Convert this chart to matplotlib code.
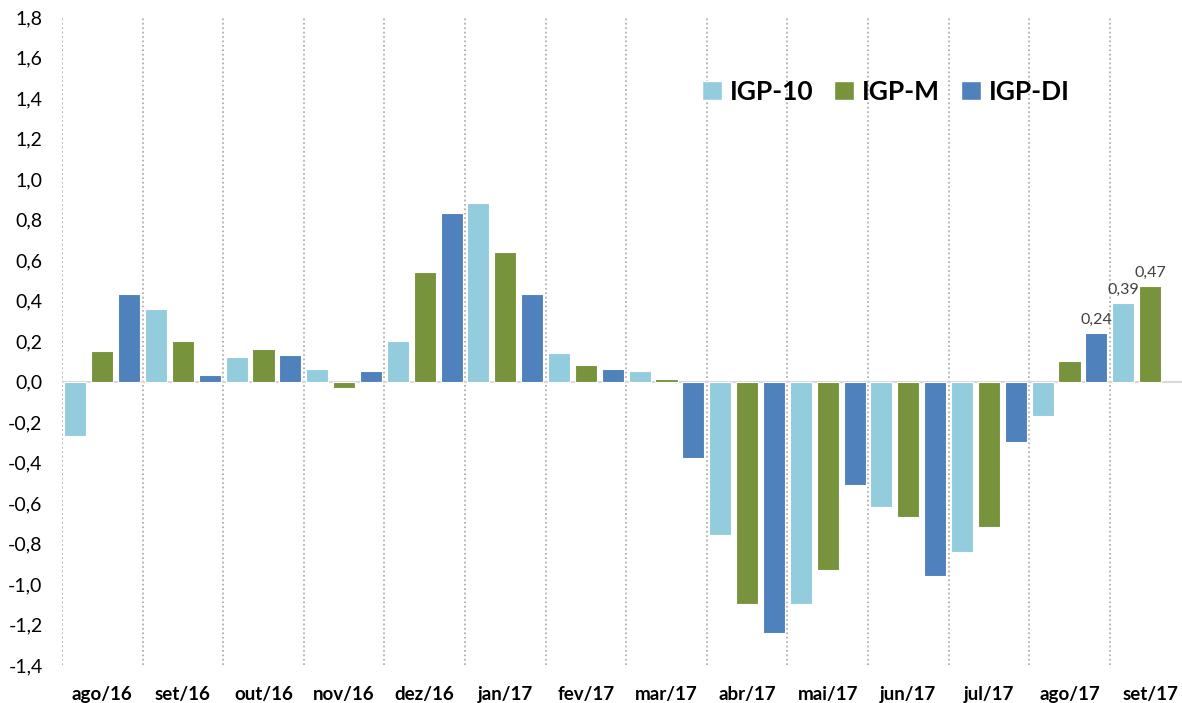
import numpy as np
import matplotlib
matplotlib.use("Agg")
import matplotlib.pyplot as plt
from matplotlib.patches import Patch

plt.rcParams['font.family'] = ['Lato', 'DejaVu Sans']

# monthly change (%)
meses = ['ago/16', 'set/16', 'out/16', 'nov/16', 'dez/16', 'jan/17', 'fev/17',
         'mar/17', 'abr/17', 'mai/17', 'jun/17', 'jul/17', 'ago/17', 'set/17']
igp10 = [-0.27, 0.36, 0.12, 0.06, 0.20, 0.88, 0.14, 0.05, -0.76, -1.10, -0.62, -0.84, -0.17, 0.39]
igpm = [0.15, 0.20, 0.16, -0.03, 0.54, 0.64, 0.08, 0.01, -1.10, -0.93, -0.67, -0.72, 0.10, 0.47]
igpdi = [0.43, 0.03, 0.13, 0.05, 0.83, 0.43, 0.06, -0.38, -1.24, -0.51, -0.96, -0.30, 0.24]

c10 = '#93CDDD'
cm = '#77933C'
cdi = '#4F81BD'

fig = plt.figure(figsize=(11.82, 7.03), dpi=100)
ax = fig.add_axes([62/1182, 1-665/703, 1120/1182, 648/703])

x = np.arange(len(meses))
w = 0.273
ax.bar(x - 1/3, igp10, w, color=c10, edgecolor='white', linewidth=0.8, zorder=3)
ax.bar(x, igpm, w, color=cm, edgecolor='white', linewidth=0.8, zorder=3)
ax.bar(x[:len(igpdi)] + 1/3, igpdi, w, color=cdi, edgecolor='white', linewidth=0.8, zorder=3)

# separators between months
for s in np.arange(len(meses)) - 0.5:
    ax.axvline(s, color='#A6A6A6', linestyle=':', linewidth=1.2, zorder=1)
ax.axhline(0, color='#D9D9D9', linewidth=1.5, zorder=2)

# labels on the latest values
lab = [(x[12] + 1/3, igpdi[12]), (x[13] - 1/3, igp10[13]), (x[13], igpm[13])]
for px, v in lab:
    ax.text(px, v + 0.03, f'{v:.2f}'.replace('.', ','), ha='center', va='bottom',
            fontsize=11.5, color='#404040', zorder=4)

ticks = np.round(np.arange(-1.4, 1.81, 0.2), 1) + 0.0
ax.set_xlim(-0.5, -0.5 + 1120/80.6)
ax.set_ylim(-1.4, 1.8)
ax.set_yticks(ticks)
ax.set_yticklabels([f'{abs(t):.1f}'.replace('.', ',') if abs(t) < 1e-9 else f'{t:.1f}'.replace('.', ',')
                    for t in ticks], fontsize=14, color='#000000')
ax.set_xticks(x)
ax.set_xticklabels(meses, fontsize=13.5, fontweight='bold')
ax.tick_params(axis='y', length=0, pad=14)
ax.tick_params(axis='x', length=0, pad=15)
for sp in ax.spines.values():
    sp.set_visible(False)

handles = [Patch(facecolor=c10, edgecolor='white'), Patch(facecolor=cm, edgecolor='white'),
           Patch(facecolor=cdi, edgecolor='white')]
fig.legend(handles, ['IGP-10', 'IGP-M', 'IGP-DI'], loc='center left',
           bbox_to_anchor=(678/1182, 1-92/703), ncol=3, frameon=False,
           prop={'size': 19, 'weight': 'bold'}, handlelength=0.75, handleheight=0.75,
           handletextpad=0.3, columnspacing=0.8)

fig.savefig('out.png', dpi=100)
